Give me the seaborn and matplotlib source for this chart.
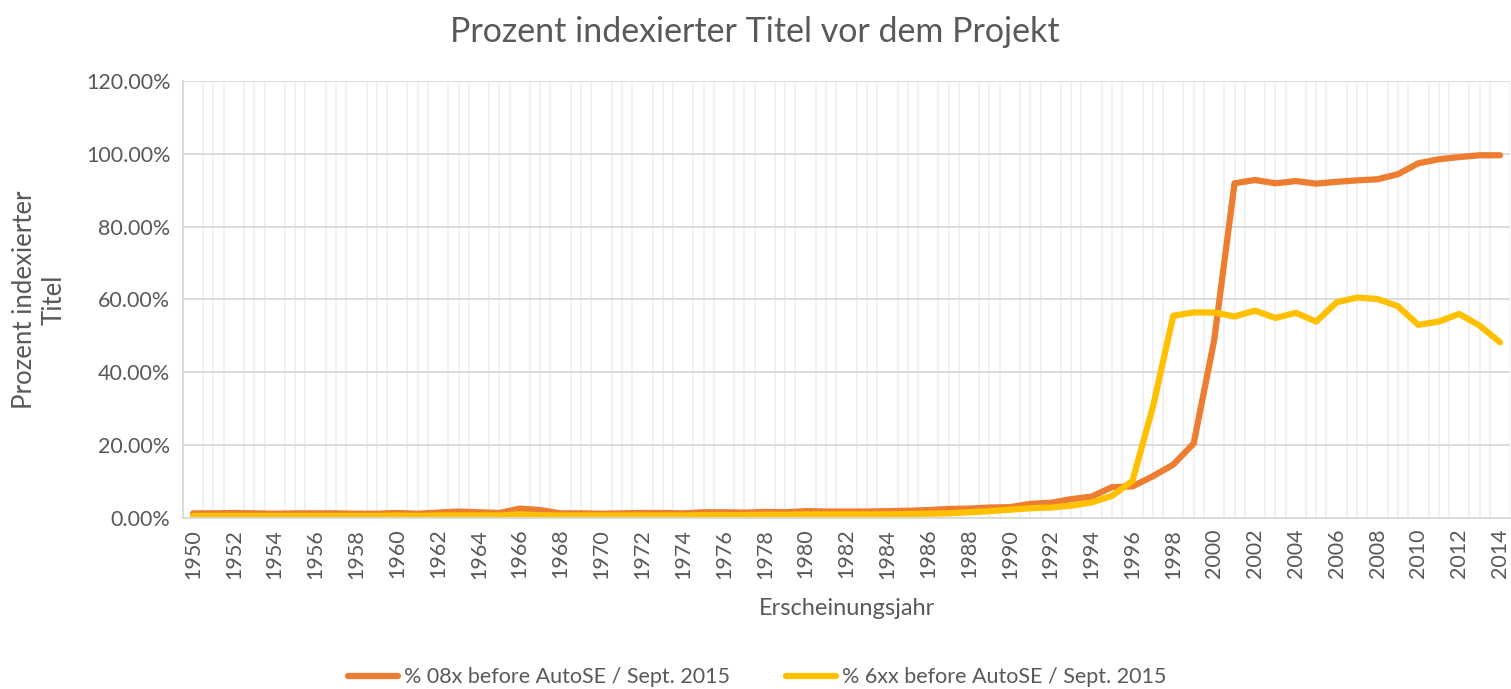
import numpy as np
import pandas as pd
import seaborn as sns
import matplotlib.pyplot as plt
from matplotlib.ticker import MultipleLocator, FuncFormatter

years = list(range(1950, 2015))

pct_08x = [
    1.2, 1.2, 1.3, 1.2, 1.1, 1.2, 1.2, 1.2, 1.1, 1.1,
    1.3, 1.1, 1.4, 1.7, 1.5, 1.3, 2.5, 2.1, 1.2, 1.2,
    1.1, 1.2, 1.3, 1.3, 1.2, 1.5, 1.5, 1.4, 1.6, 1.5,
    1.8, 1.7, 1.7, 1.7, 1.8, 1.9, 2.1, 2.4, 2.5, 2.8,
    2.9, 3.8, 4.1, 5.1, 5.8, 8.4, 8.6, 11.4, 14.6, 20.4,
    48.7, 91.9, 92.8, 91.9, 92.5, 91.8, 92.3, 92.7, 93.0, 94.4,
    97.4, 98.5, 99.1, 99.6, 99.6,
]

pct_6xx = [
    0.5, 0.5, 0.5, 0.5, 0.5, 0.5, 0.5, 0.5, 0.5, 0.5,
    0.6, 0.5, 0.6, 0.6, 0.6, 0.6, 0.9, 0.7, 0.6, 0.6,
    0.6, 0.6, 0.6, 0.6, 0.6, 0.7, 0.7, 0.7, 0.8, 0.8,
    0.9, 0.9, 0.9, 0.9, 0.9, 1.0, 1.1, 1.2, 1.5, 1.8,
    2.2, 2.6, 2.8, 3.3, 4.2, 6.0, 10.1, 30.4, 55.5, 56.4,
    56.4, 55.3, 56.9, 54.9, 56.3, 53.9, 59.2, 60.5, 60.1, 58.1,
    53.0, 53.9, 56.0, 52.8, 48.2,
]

label_08x = "% 08x before AutoSE / Sept. 2015"
label_6xx = "% 6xx before AutoSE / Sept. 2015"

df = pd.DataFrame({"Jahr": years, label_08x: pct_08x, label_6xx: pct_6xx})
long_df = df.melt(id_vars="Jahr", var_name="Serie", value_name="Prozent")

sns.set_theme(style="white")
plt.rcParams["font.family"] = ["Lato", "DejaVu Sans"]
text_color = "#595959"

fig, ax = plt.subplots(figsize=(15.11, 6.89), dpi=100)
fig.subplots_adjust(left=0.121, right=0.9995, top=0.8824, bottom=0.2486)

sns.lineplot(data=long_df, x="Jahr", y="Prozent", hue="Serie",
             palette=["#ED7D31", "#FFC000"], linewidth=4.5, ax=ax,
             legend=True)

ax.set_xlim(1949.5, 2014.5)
ax.set_ylim(0, 120)
ax.yaxis.set_major_locator(MultipleLocator(20))
ax.yaxis.set_major_formatter(FuncFormatter(lambda v, p: f"{v:.2f}%"))
ax.xaxis.set_major_locator(MultipleLocator(2))
ax.xaxis.set_major_formatter(FuncFormatter(lambda v, p: f"{int(round(v))}"))
ax.xaxis.set_minor_locator(MultipleLocator(0.5))

ax.grid(True, axis="y", which="major", color="#D9D9D9", linewidth=1.3)
ax.grid(True, axis="x", which="minor", color="#F0F0F0", linewidth=1.3)
ax.set_axisbelow(True)

for side in ["top", "right"]:
    ax.spines[side].set_visible(False)
for side in ["left", "bottom"]:
    ax.spines[side].set_color("#D9D9D9")
    ax.spines[side].set_linewidth(1.3)

ax.tick_params(axis="x", which="major", rotation=90, labelsize=15.5,
               colors=text_color, length=0, pad=8)
ax.tick_params(axis="x", which="minor", length=0)
ax.tick_params(axis="y", labelsize=15.5, colors=text_color, length=0, pad=9)

ax.set_title("Prozent indexierter Titel vor dem Projekt", fontsize=24.5,
             color=text_color, pad=28, x=0.431)
ax.set_xlabel("Erscheinungsjahr", fontsize=17, color=text_color, labelpad=14)
ax.set_ylabel("Prozent indexierter\nTitel", fontsize=18.5, color=text_color,
              labelpad=14, linespacing=1.2)

handles, labels = ax.get_legend_handles_labels()
leg = ax.legend(handles, labels, loc="center", bbox_to_anchor=(0.433, -0.365),
                ncol=2, frameon=False, fontsize=15.5, labelcolor=text_color,
                handlelength=2.3, columnspacing=2.6, handletextpad=0.3)
for line in leg.get_lines():
    line.set_linewidth(4.5)

fig.savefig("out.png", dpi=100)
